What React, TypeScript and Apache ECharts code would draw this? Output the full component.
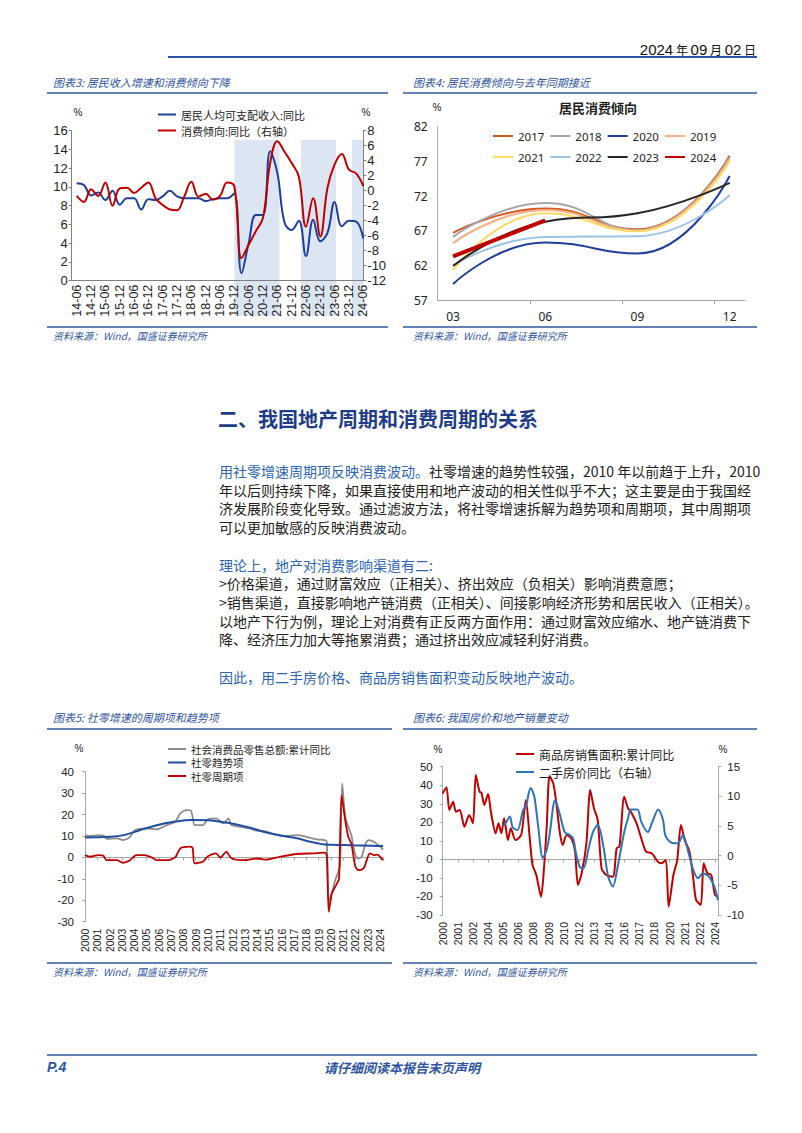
import React, { useEffect, useRef } from 'react';
import * as echarts from 'echarts';

// ---------- Chart 3: 居民收入增速和消费倾向 ----------
const quarters = ['14-06','14-09','14-12','15-03','15-06','15-09','15-12','16-03','16-06','16-09','16-12','17-03','17-06','17-09','17-12','18-03','18-06','18-09','18-12','19-03','19-06','19-09','19-12','20-03','20-06','20-09','20-12','21-03','21-06','21-09','21-12','22-03','22-06','22-09','22-12','23-03','23-06','23-09','23-12','24-03','24-06'];
const incomeGrowth = [10.4,10.2,9.1,9.4,8.6,9.6,8.1,8.8,8.8,7.6,8.7,8.6,9.0,9.6,9.0,8.8,8.8,8.8,8.5,8.7,8.8,8.8,9.3,0.8,4.0,7.0,7.0,13.8,11.5,6.2,5.4,6.4,2.6,6.5,4.2,5.1,8.4,5.8,6.4,6.3,4.5];
const propensityChange = [-0.7,-1.5,0.2,-0.7,1.1,-2.0,0.3,0.4,-0.3,0.4,1.1,-1.0,-1.9,-2.5,-2.6,-0.8,1.2,-0.8,-0.4,-1.2,-0.7,1.1,0.6,-9.0,-7.2,-5.4,-3.6,3.7,6.6,5.2,3.7,1.9,-4.8,-1.0,-6.1,0.4,3.5,4.9,2.8,2.3,0.6];
const shadedSpans = [[22, 28.3], [31.3, 36.2], [38.4, 40]]; // in quarter-index units
const quarterLabelIdx = [0,2,4,6,8,10,12,14,16,18,20,22,24,26,28,30,32,34,36,38,40];

// ---------- Chart 4: 居民消费倾向 ----------
const propMonths = [3, 6, 9, 12];
const propYears = ['2017','2018','2020','2019','2021','2022','2023','2024'];
const prop2017 = [66.7, 70.2, 67.2, 77.8];
const prop2018 = [66.1, 71.0, 67.1, 77.6];
const prop2020 = [59.3, 65.3, 63.7, 74.9];
const prop2019 = [65.2, 70.0, 67.0, 77.3];
const prop2021 = [61.3, 69.5, 66.9, 77.0];
const prop2022 = [62.0, 66.1, 66.2, 72.1];
const prop2023 = [61.9, 68.3, 69.5, 73.9];
const prop2024 = [63.3, 68.5];
const propYTicks = [57, 62, 67, 72, 77, 82];

// ---------- Chart 5: 社零 (x = months since 2000-01) ----------
const retailTotal = [[0,10.3],[5,10.0],[13,10.4],[18,10.2],[21,8.7],[31,8.9],[37,8.1],[41,8.6],[44,9.6],[49,12.8],[60,13.5],[70,13.1],[80,15.1],[88,16.6],[93,20.6],[99,22.1],[103,22.0],[105,19.0],[107,15.1],[115,15.1],[120,17.8],[128,18.2],[135,15.9],[140,18.2],[143,15.1],[151,14.3],[161,13.5],[168,12.4],[174,12.4],[184,10.9],[194,10.0],[207,10.4],[216,9.6],[226,8.4],[234,8.1],[236,7.3],[238,-20.5],[241,-16.5],[244,-11.0],[247,-7.0],[249,-3.5],[251,34.5],[254,19.0],[257,14.3],[260,10.4],[262,5.0],[264,1.1],[267,-0.5],[270,0.3],[274,6.5],[277,8.1],[282,7.3],[287,5.4],[291,3.7]];
const retailTrend = [[0,9.3],[24,9.6],[38,10.4],[54,12.8],[70,15.0],[87,16.6],[104,17.5],[120,17.4],[132,16.6],[142,15.9],[160,14.0],[174,12.0],[190,10.3],[207,8.9],[220,7.3],[231,6.2],[240,5.9],[260,5.7],[280,5.5],[291,5.3]];
const retailCycle = [[0,1.1],[5,0.3],[13,1.1],[18,0.8],[21,-1.3],[31,-1.3],[37,-2.5],[44,-1.3],[50,1.1],[58,1.1],[65,0.0],[70,-1.3],[80,-1.3],[88,0.0],[93,4.2],[102,5.0],[105,4.5],[107,-2.8],[115,-2.0],[120,0.5],[128,1.9],[132,0.0],[138,2.6],[143,-0.4],[155,-1.3],[168,-0.5],[177,-1.0],[190,0.3],[207,1.6],[223,1.9],[234,2.2],[236,1.1],[238,-25.4],[241,-16.8],[246,-12.1],[248,-10.0],[250.5,29.1],[254,17.4],[257,9.6],[260,6.5],[264,-4.4],[267,-5.9],[272,-5.1],[275,-1.3],[278,1.9],[282,1.1],[285,1.3],[291,-1.3]];

// ---------- Chart 6: 房价和地产销量 (x = months since 2000-01) ----------
const housingSales = [[0,35.6],[4,38.9],[7,26.6],[11,31.1],[14,25.7],[18,26.6],[23,17.6],[28,24.0],[32,19.5],[35,45.5],[39,36.5],[41,36.0],[44,29.3],[48,35.3],[51,25.7],[56,14.1],[59,19.5],[62,14.1],[65,22.2],[69,10.4],[72,16.8],[77,10.4],[83,13.2],[86,24.9],[88,32.0],[92,11.8],[95,-3.0],[99,-8.4],[104,-20.1],[107,-5.7],[110,17.6],[113,45.0],[117,41.0],[120,31.1],[124,14.1],[127,7.8],[131,13.2],[136,11.4],[140,4.2],[143,-13.8],[147,-7.5],[152,8.7],[156,37.4],[160,27.6],[164,21.2],[168,-4.8],[173,-8.4],[180,-9.3],[184,6.0],[187,7.0],[192,33.8],[196,27.6],[199,25.7],[205,19.5],[210,11.4],[215,4.2],[221,3.3],[228,-1.5],[231,-2.1],[236,-0.3],[239,-25.5],[244,-8.4],[248,-0.5],[252,18.6],[256,10.4],[261,4.2],[265,-10.2],[268,-21.9],[273,-24.6],[276,-2.1],[280,-7.5],[284,-8.4],[288,-19.2],[291,-20.1]];
const resalePrice = [[64,5.0],[67,5.6],[71,6.6],[74,4.8],[79,4.3],[85,7.7],[88,8.3],[93,11.4],[97,9.9],[101,4.9],[106,-0.4],[110,1.0],[113,3.5],[119,9.4],[124,6.9],[129,4.0],[134,3.5],[138,2.9],[141,0.4],[145,-1.9],[149,-2.1],[154,1.0],[159,4.0],[164,5.2],[170,1.5],[175,-3.5],[180,-5.2],[185,-1.9],[192,4.0],[196,6.3],[199,7.8],[206,7.8],[210,5.7],[217,4.0],[221,5.4],[228,7.8],[233,6.0],[236,3.2],[244,2.1],[249,2.1],[254,3.5],[259,1.1],[265,-2.4],[270,-3.8],[275,-3.0],[280,-3.3],[284,-4.1],[288,-5.5],[291,-7.5]];

// ---------- Text ----------
const bodyLines = [
  { y: 471, parts: [['b', '用社零增速周期项反映消费波动。'], ['k', '社零增速的趋势性较强，2010 年以前趋于上升，2010']] },
  { y: 489.6, parts: [['k', '年以后则持续下降，如果直接使用和地产波动的相关性似乎不大；这主要是由于我国经']] },
  { y: 508.2, parts: [['k', '济发展阶段变化导致。通过滤波方法，将社零增速拆解为趋势项和周期项，其中周期项']] },
  { y: 526.8, parts: [['k', '可以更加敏感的反映消费波动。']] },
  { y: 564.8, parts: [['b', '理论上，地产对消费影响渠道有二:']] },
  { y: 583.4, parts: [['k', '>价格渠道，通过财富效应（正相关）、挤出效应（负相关）影响消费意愿；']] },
  { y: 602, parts: [['k', '>销售渠道，直接影响地产链消费（正相关）、间接影响经济形势和居民收入（正相关）。']] },
  { y: 620.6, parts: [['k', '以地产下行为例，理论上对消费有正反两方面作用：通过财富效应缩水、地产链消费下']] },
  { y: 639.2, parts: [['k', '降、经济压力加大等拖累消费；通过挤出效应减轻利好消费。']] },
  { y: 677, parts: [['b', '因此，用二手房价格、商品房销售面积变动反映地产波动。']] },
];

const CJK = '"Noto Sans CJK SC", sans-serif';
const NUM = '"Liberation Sans", Arial, sans-serif';
const BLUE = '#2e54a1';
const AXC = '#a6a6a6';

function T(x: number, y: number, text: string, o: any = {}) {
  return {
    type: 'text', x, y, silent: true, z: 10,
    style: {
      text, fill: o.fill ?? '#222', fontSize: o.size ?? 12, fontFamily: o.family ?? CJK,
      fontWeight: o.weight ?? 'normal', fontStyle: o.italic ? 'italic' : 'normal',
      textAlign: o.align ?? 'left', textVerticalAlign: 'middle', rich: o.rich,
    },
  };
}
function L(x1: number, y1: number, x2: number, y2: number, w = 1.6, color = BLUE) {
  return { type: 'line', silent: true, z: 10, shape: { x1, y1, x2, y2 }, style: { stroke: color, lineWidth: w } };
}

function buildGraphic() {
  const g: any[] = [];
  g.push(T(756, 49, '{n|2024}{c| 年 }{n|09}{c| 月 }{n|02}{c| 日}', {
    align: 'right',
    rich: {
      n: { fontSize: 15, fontFamily: NUM, fill: '#111' },
      c: { fontSize: 12, fontFamily: CJK, fill: '#111' },
    },
  }));
  g.push(L(168, 57, 757, 57, 1.8));
  // chart titles row 1
  g.push(T(53, 82, '图表3: 居民收入增速和消费倾向下降', { fill: BLUE, size: 11, italic: true }));
  g.push(T(413, 82, '图表4: 居民消费倾向与去年同期接近', { fill: BLUE, size: 11, italic: true }));
  g.push(L(47, 93, 388, 93), L(403, 93, 757, 93));
  g.push(L(47, 327, 388, 327), L(403, 327, 757, 327));
  g.push(T(53, 335, '资料来源：Wind，国盛证券研究所', { fill: BLUE, size: 10, italic: true }));
  g.push(T(413, 335, '资料来源：Wind，国盛证券研究所', { fill: BLUE, size: 10, italic: true }));
  // chart 3 / 4 extras
  g.push(T(78, 112, '%', { size: 10, family: NUM, align: 'center' }));
  g.push(T(366, 112, '%', { size: 10, family: NUM, align: 'center' }));
  g.push(T(437, 107, '%', { size: 10, family: NUM, align: 'center' }));
  g.push(T(598, 107, '居民消费倾向', { size: 13, weight: 'bold', align: 'center' }));
  // heading + body
  g.push(T(218, 418, '二、我国地产周期和消费周期的关系', { size: 20, weight: 'bold', fill: '#1f3c88' }));
  for (const ln of bodyLines) {
    const text = ln.parts.map(([s, t]) => `{${s}|${t}}`).join('');
    g.push(T(219, ln.y, text, {
      size: 14,
      rich: {
        b: { fill: '#2e64b4', fontSize: 14, fontFamily: CJK },
        k: { fill: '#222', fontSize: 14, fontFamily: CJK },
      },
    }));
  }
  // chart titles row 2
  g.push(T(53, 717, '图表5: 社零增速的周期项和趋势项', { fill: BLUE, size: 11, italic: true }));
  g.push(T(413, 717, '图表6: 我国房价和地产销量变动', { fill: BLUE, size: 11, italic: true }));
  g.push(L(47, 729, 392, 729), L(403, 729, 757, 729));
  g.push(T(79, 748, '%', { size: 10, family: NUM, align: 'center' }));
  g.push(T(438, 749, '%', { size: 10, family: NUM, align: 'center' }));
  g.push(T(723, 749, '%', { size: 10, family: NUM, align: 'center' }));
  g.push(L(47, 963, 392, 963), L(403, 963, 757, 963));
  g.push(T(53, 971, '资料来源：Wind，国盛证券研究所', { fill: BLUE, size: 10, italic: true }));
  g.push(T(413, 971, '资料来源：Wind，国盛证券研究所', { fill: BLUE, size: 10, italic: true }));
  // footer
  g.push(L(47, 1055, 757, 1055, 1.6));
  g.push(T(47, 1067, 'P.4', { fill: BLUE, size: 14, weight: 'bold', italic: true, family: NUM }));
  g.push(T(402, 1067, '请仔细阅读本报告末页声明', { fill: BLUE, size: 13, weight: 'bold', italic: true, align: 'center' }));
  return g;
}

const propSeries: Record<string, number[]> = {
  '2017': prop2017, '2018': prop2018, '2020': prop2020, '2019': prop2019,
  '2021': prop2021, '2022': prop2022, '2023': prop2023, '2024': prop2024,
};
const propColors: Record<string, string> = {
  '2017': '#d6561f', '2018': '#a6a6a6', '2020': '#1f3f99', '2019': '#f4b183',
  '2021': '#ffd966', '2022': '#9dc3e6', '2023': '#262626', '2024': '#c00000',
};

function lineSeries(name: string, data: any[], color: string, xi: number, yi: number, width = 2, smooth = 0.4, z = 3) {
  return {
    name, type: 'line', xAxisIndex: xi, yAxisIndex: yi, data, smooth, symbol: 'none', z,
    lineStyle: { color, width }, itemStyle: { color }, emphasis: { disabled: true },
  };
}

function buildOption() {
  const axisLabelBase = { fontFamily: NUM, color: '#222' };
  const noSplit = { show: false };
  const grid = (left: number, top: number, width: number, height: number) => ({
    left, top, width, height, containLabel: false, outerBoundsMode: 'none',
  });
  const xAxis: any[] = [
    // 0: chart 3
    {
      type: 'value', gridIndex: 0, min: -0.7, max: 40, splitLine: noSplit,
      axisLine: { show: true, onZero: false, lineStyle: { color: '#808080' } },
      axisTick: { show: false },
      axisLabel: { ...axisLabelBase, customValues: quarterLabelIdx, formatter: (v: number) => quarters[Math.round(v)] ?? '', rotate: 90, fontSize: 12.5, margin: 4 },
      z: 4,
    },
    // 1: chart 3 shading
    { type: 'value', gridIndex: 1, min: -0.7, max: 40, show: false, splitLine: noSplit },
    // 2: chart 4
    {
      type: 'value', gridIndex: 2, min: 2.5, max: 12.5, splitLine: noSplit,
      axisLine: { show: true, onZero: false, lineStyle: { color: AXC } },
      axisTick: { show: true, customValues: [5.5, 8.5, 11.5], length: 4, lineStyle: { color: AXC } },
      axisLabel: { ...axisLabelBase, fontFamily: '"Noto Sans", sans-serif', fontSize: 12, customValues: propMonths, formatter: (v: number) => (v < 10 ? '0' : '') + v, margin: 10 },
    },
    // 3: chart 5 labels
    {
      type: 'value', gridIndex: 3, min: 0, max: 291, interval: 12, position: 'bottom', splitLine: noSplit,
      axisLine: { show: false, onZero: false }, axisTick: { show: false },
      axisLabel: { ...axisLabelBase, rotate: 90, fontSize: 10.5, margin: 7, formatter: (v: number) => (v % 12 === 0 ? String(2000 + v / 12) : '') },
    },
    // 4: chart 5 zero line
    {
      type: 'value', gridIndex: 3, min: 0, max: 291, interval: 12, position: 'bottom', splitLine: noSplit,
      axisLine: { show: true, onZero: true, lineStyle: { color: AXC } },
      axisTick: { show: true, length: 3, lineStyle: { color: AXC } }, axisLabel: { show: false },
    },
    // 5: chart 6 labels
    {
      type: 'value', gridIndex: 4, min: 0, max: 291.5, interval: 16, position: 'bottom', splitLine: noSplit,
      axisLine: { show: false, onZero: false }, axisTick: { show: false },
      axisLabel: { ...axisLabelBase, rotate: 90, fontSize: 10.5, margin: 7, formatter: (v: number) => (v % 16 === 0 ? String(2000 + Math.floor(v / 12)) : '') },
    },
    // 6: chart 6 zero line
    {
      type: 'value', gridIndex: 4, min: 0, max: 291.5, interval: 16, position: 'bottom', splitLine: noSplit,
      axisLine: { show: true, onZero: true, lineStyle: { color: AXC } },
      axisTick: { show: true, length: 3, lineStyle: { color: AXC } }, axisLabel: { show: false },
    },
  ];
  const yTick = (color: string) => ({ show: true, length: 3, lineStyle: { color } });
  const yAxis: any[] = [
    // 0: chart 3 left
    {
      type: 'value', gridIndex: 0, min: 0, max: 16, interval: 2, splitLine: noSplit,
      axisLine: { show: true, onZero: false, lineStyle: { color: '#808080' } }, axisTick: yTick('#808080'),
      axisLabel: { ...axisLabelBase, fontSize: 13, margin: 4 }, z: 4,
    },
    // 1: chart 3 right
    {
      type: 'value', gridIndex: 0, position: 'right', min: -12, max: 8, interval: 2, splitLine: noSplit,
      axisLine: { show: true, onZero: false, lineStyle: { color: '#808080' } }, axisTick: yTick('#808080'),
      axisLabel: { ...axisLabelBase, fontSize: 13, margin: 4 }, z: 4,
    },
    // 2: chart 3 shading
    { type: 'value', gridIndex: 1, min: 0, max: 1, show: false, splitLine: noSplit },
    // 3: chart 4
    {
      type: 'value', gridIndex: 2, min: 57, max: 82, splitLine: noSplit,
      axisLine: { show: true, onZero: false, lineStyle: { color: AXC } }, axisTick: { show: false },
      axisLabel: { ...axisLabelBase, fontFamily: '"Noto Sans", sans-serif', fontSize: 12, customValues: propYTicks, margin: 10 },
    },
    // 4: chart 5
    {
      type: 'value', gridIndex: 3, min: -30, max: 40, interval: 10, splitLine: noSplit,
      axisLine: { show: true, onZero: false, lineStyle: { color: AXC } }, axisTick: yTick(AXC),
      axisLabel: { ...axisLabelBase, fontSize: 11.5, margin: 11 },
    },
    // 5: chart 6 left
    {
      type: 'value', gridIndex: 4, min: -30, max: 50, interval: 10, splitLine: noSplit,
      axisLine: { show: true, onZero: false, lineStyle: { color: AXC } }, axisTick: yTick(AXC),
      axisLabel: { ...axisLabelBase, fontSize: 11.5, margin: 10 },
    },
    // 6: chart 6 right
    {
      type: 'value', gridIndex: 4, position: 'right', min: -10, max: 15, interval: 5, splitLine: noSplit,
      axisLine: { show: true, onZero: false, lineStyle: { color: AXC } }, axisTick: yTick(AXC),
      axisLabel: { ...axisLabelBase, fontSize: 11.5, margin: 9 },
    },
  ];

  const series: any[] = [
    {
      name: 'shade', type: 'line', xAxisIndex: 1, yAxisIndex: 2, data: [], z: 0, silent: true,
      markArea: {
        silent: true, itemStyle: { color: '#dce6f2' },
        data: shadedSpans.map(([a, b]) => [{ xAxis: a }, { xAxis: b }]),
      },
    },
    lineSeries('居民人均可支配收入:同比', incomeGrowth.map((v, i) => [i, v]), '#1f3f99', 0, 0, 2, 0.4, 5),
    lineSeries('消费倾向:同比（右轴）', propensityChange.map((v, i) => [i, v]), '#c00000', 0, 1, 2, 0.4, 5),
  ];
  for (const yr of propYears) {
    const vals = propSeries[yr];
    series.push(lineSeries(yr, vals.map((v, i) => [propMonths[i], v]), propColors[yr], 2, 3, yr === '2024' ? 4 : 2, 0.5));
  }
  series.push(lineSeries('社会消费品零售总额:累计同比', retailTotal, '#8c8c8c', 3, 4, 1.8, 0.25));
  series.push(lineSeries('社零趋势项', retailTrend, '#1f4ea0', 3, 4, 2, 0.4));
  series.push(lineSeries('社零周期项', retailCycle, '#c00000', 3, 4, 1.8, 0.25));
  series.push(lineSeries('商品房销售面积:累计同比', housingSales, '#c00000', 5, 5, 2, 0.25));
  series.push(lineSeries('二手房价同比（右轴）', resalePrice, '#2e75b6', 5, 6, 2, 0.3));

  const legendText = (size: number, family = CJK, lineHeight?: number) => ({ fontSize: size, fontFamily: family, color: '#222', lineHeight });
  const legBase = { selectedMode: false, itemStyle: { opacity: 0 } };
  const legend = [
    { ...legBase, data: ['居民人均可支配收入:同比', '消费倾向:同比（右轴）'], orient: 'vertical', left: 152, top: 103.5, itemWidth: 18, itemHeight: 10, itemGap: 4, textStyle: legendText(11, CJK, 12) },
    { ...legBase, data: ['2017', '2018', '2020', '2019'], orient: 'horizontal', left: 487, top: 125, itemWidth: 20, itemHeight: 8, itemGap: 5, textStyle: legendText(11.5, '"Noto Sans", sans-serif') },
    { ...legBase, data: ['2021', '2022', '2023', '2024'], orient: 'horizontal', left: 487, top: 146, itemWidth: 20, itemHeight: 8, itemGap: 5, textStyle: legendText(11.5, '"Noto Sans", sans-serif') },
    { ...legBase, data: ['社会消费品零售总额:累计同比', '社零趋势项', '社零周期项'], orient: 'vertical', left: 162, top: 738.5, itemWidth: 18, itemHeight: 8, itemGap: 2.5, textStyle: legendText(10.5, CJK, 11) },
    { ...legBase, data: ['商品房销售面积:累计同比', '二手房价同比（右轴）'], orient: 'vertical', left: 510, top: 743, itemWidth: 18, itemHeight: 8, itemGap: 6, textStyle: legendText(12, CJK, 12) },
  ];

  return {
    animation: false,
    backgroundColor: '#ffffff',
    textStyle: { fontFamily: NUM },
    grid: [
      grid(71.7, 130.7, 291.6, 150),
      grid(71.7, 140, 291.6, 176),
      grid(437.7, 126.7, 307.3, 173.3),
      grid(85, 771.7, 298.1, 150),
      grid(442.7, 766.7, 275.6, 148.3),
    ],
    xAxis, yAxis, series, legend,
    graphic: { elements: buildGraphic() },
  };
}

export default function App() {
  const ref = useRef<HTMLDivElement>(null);
  useEffect(() => {
    const chart = echarts.init(ref.current!, undefined, { renderer: 'svg', width: 802, height: 1133 });
    chart.setOption(buildOption() as any);
    return () => chart.dispose();
  }, []);
  return (
    <div
      ref={ref}
      style={{ position: 'fixed', left: 0, top: 0, width: 802, height: 1133, background: '#fff' }}
    />
  );
}
